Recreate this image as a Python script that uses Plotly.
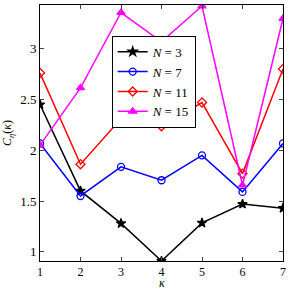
import plotly.graph_objects as go

kappa = [1, 2, 3, 4, 5, 6, 7]
n3 = [2.45, 1.60, 1.28, 0.91, 1.285, 1.47, 1.43]
n7 = [2.067, 1.55, 1.837, 1.705, 1.95, 1.59, 2.067]
n11 = [2.76, 1.863, 2.31, 2.237, 2.47, 1.77, 2.80]
n15 = [2.05, 2.614, 3.356, 3.067, 3.42, 1.656, 3.297]

series = [
    ("<i>N</i> = 3", n3, "black", "star", "black"),
    ("<i>N</i> = 7", n7, "blue", "circle-open", "blue"),
    ("<i>N</i> = 11", n11, "red", "diamond-open", "red"),
    ("<i>N</i> = 15", n15, "magenta", "triangle-up", "magenta"),
]

fig = go.Figure()
for name, ys, col, sym, mcol in series:
    fig.add_trace(go.Scatter(
        x=kappa, y=ys, name=name, mode="lines+markers",
        line=dict(color=col, width=1.5),
        marker=dict(symbol=sym, size=7, color=mcol, line=dict(color=col, width=1.3)),
    ))

serif = "Liberation Serif"
font = dict(family=serif, size=12, color="black")
fig.update_layout(
    width=292, height=289,
    margin=dict(l=40, r=9, t=5, b=28, autoexpand=False),
    paper_bgcolor="white", plot_bgcolor="white",
    font=font,
    showlegend=True,
    legend=dict(x=0.295, y=0.88, xanchor="left", yanchor="top",
                bgcolor="white", bordercolor="black", borderwidth=1,
                font=dict(family=serif, size=13, color="black"),
                tracegroupgap=0, itemwidth=30),
    xaxis=dict(range=[1, 7], tickvals=kappa, ticks="inside", ticklen=4,
               showline=True, linecolor="black", linewidth=1, mirror="ticks",
               showgrid=False, zeroline=False,
               tickfont=dict(family=serif, size=12)),
    yaxis=dict(range=[0.91, 3.43], tickvals=[1, 1.5, 2, 2.5, 3],
               ticktext=["1", "1.5", "2", "2.5", "3"],
               ticks="inside", ticklen=4,
               showline=True, linecolor="black", linewidth=1, mirror="ticks",
               showgrid=False, zeroline=False,
               tickfont=dict(family=serif, size=13),
               title=dict(text="<i>C</i><sub><i>η</i></sub>(<i>κ</i>)", standoff=6,
                          font=dict(family=serif, size=12))),
    annotations=[dict(text="<i>κ</i>", xref="paper", yref="paper", x=0.5, y=0,
                      xanchor="center", yanchor="middle", yshift=-22, showarrow=False,
                      font=dict(family=serif, size=12))],
)
fig.write_html("out.html", config={"displayModeBar": False},
               post_script="document.body.style.margin='0';")
